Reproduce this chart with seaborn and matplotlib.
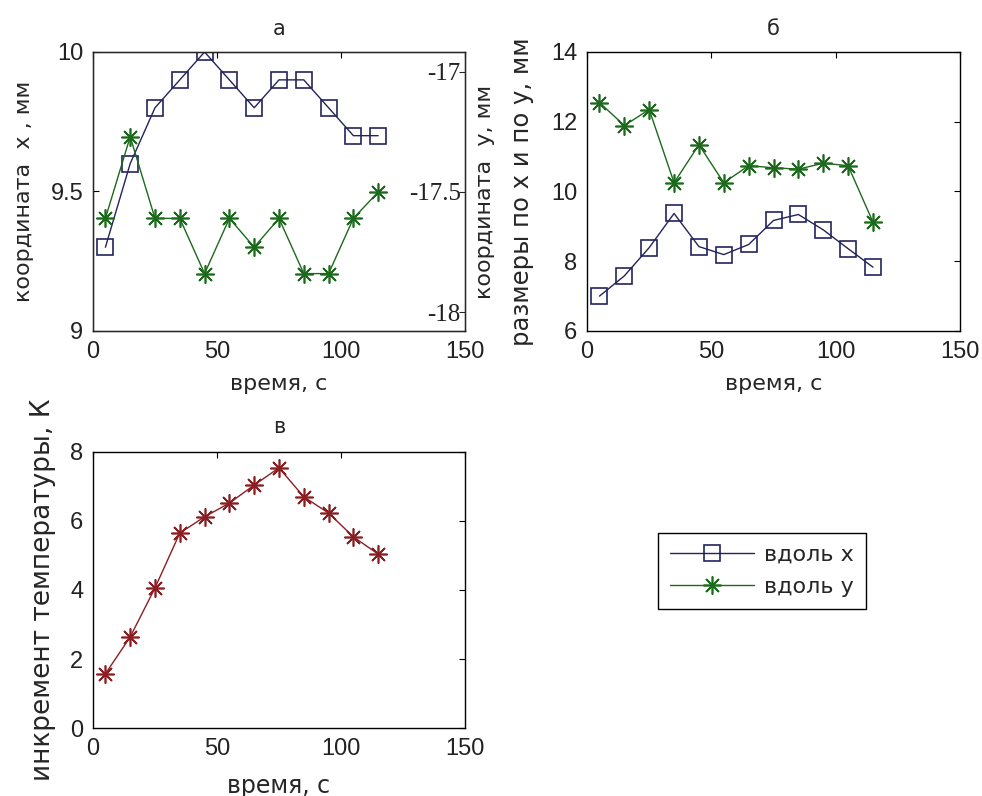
import numpy as np
import pandas as pd
import matplotlib
matplotlib.use("Agg")
import matplotlib.pyplot as plt
import seaborn as sns
from matplotlib.lines import Line2D

sns.set_style("white")
plt.rcParams['font.family'] = ['Liberation Sans', 'DejaVu Sans']

# time, s
t = [5, 15, 25, 35, 45, 55, 65, 75, 85, 95, 105, 115]

# panel a: coordinates
coord_x = [9.3, 9.6, 9.8, 9.9, 10.0, 9.9, 9.8, 9.9, 9.9, 9.8, 9.7, 9.7]
coord_y = [-17.61, -17.27, -17.61, -17.61, -17.84, -17.61, -17.73, -17.61,
           -17.84, -17.84, -17.61, -17.50]

# panel b: sizes along x and y
size_x = [7.0, 7.58, 8.39, 9.37, 8.42, 8.19, 8.48, 9.17, 9.34, 8.90, 8.36, 7.83]
size_y = [12.55, 11.89, 12.35, 10.25, 11.34, 10.25, 10.74, 10.68, 10.64, 10.81,
          10.74, 9.12]

# panel c: temperature increment, K
temp = [1.57, 2.64, 4.06, 5.65, 6.12, 6.52, 7.04, 7.54, 6.70, 6.23, 5.54, 5.04]

c_blue = "#23235e"
c_green = "#1c6a1c"
c_red = "#8a1e22"
star = (8, 2, 0)
txt_font = "DejaVu Sans"

df = pd.DataFrame({"t": t, "cx": coord_x, "cy": coord_y,
                   "sx": size_x, "sy": size_y, "temp": temp})

fig = plt.figure(figsize=(9.82, 7.96), dpi=100)
ax_a = fig.add_axes([0.0947, 0.5842, 0.3788, 0.3505])
ax_b = fig.add_axes([0.5978, 0.5842, 0.3798, 0.3505])
ax_c = fig.add_axes([0.0947, 0.0854, 0.3788, 0.3468])

tick_fs = 17
lab_fs = 16


def style_axis(ax, right=True):
    for s in ax.spines.values():
        s.set_color("black")
        s.set_linewidth(1.0)
    ax.tick_params(direction="in", length=4, width=0.8, labelsize=tick_fs,
                   top=True, right=right, colors="black", labelcolor="#222222",
                   pad=7)
    ax.set_xlim(0, 150)
    ax.set_xticks([0, 50, 100, 150])


# ---- panel a
sns.lineplot(data=df, x="t", y="cx", ax=ax_a, color=c_blue, lw=1.0,
             marker="s", markersize=12, markerfacecolor="none",
             markeredgecolor=c_blue, markeredgewidth=1.2)
ax_a.set_ylim(9, 10)
ax_a.set_yticks([9, 9.5, 10])
ax_a.set_yticklabels(["9", "9.5", "10"])
style_axis(ax_a, right=False)
ax_a.set_xlabel("время, с", fontsize=lab_fs, family=txt_font, labelpad=8)
ax_a.set_ylabel("координата  х , мм", fontsize=16, family=txt_font, labelpad=12)
ax_a.set_title("а", fontsize=15, family=txt_font, pad=12)

ax_a2 = ax_a.twinx()
sns.lineplot(data=df, x="t", y="cy", ax=ax_a2, color=c_green, lw=1.0,
             marker=star, markersize=13, markeredgecolor=c_green,
             markeredgewidth=1.2)
ax_a2.set_ylim(-18.079, -16.917)
ax_a2.set_yticks([-18, -17.5, -17])
ax_a2.set_yticklabels(["-18", "-17.5", "-17"])
ax_a2.tick_params(axis="y", direction="in", length=4, pad=-3, labelsize=18,
                  labelcolor="#222222")
for lbl in ax_a2.get_yticklabels():
    lbl.set_horizontalalignment("right")
    lbl.set_fontfamily("Liberation Serif")
ax_a2.set_ylabel("координата  у, мм", fontsize=16, family=txt_font, labelpad=7)
ax_a2.set_xlim(0, 150)

# ---- panel b
sns.lineplot(data=df, x="t", y="sy", ax=ax_b, color=c_green, lw=1.0,
             marker=star, markersize=13, markeredgecolor=c_green,
             markeredgewidth=1.2)
sns.lineplot(data=df, x="t", y="sx", ax=ax_b, color=c_blue, lw=1.0,
             marker="s", markersize=12, markerfacecolor="none",
             markeredgecolor=c_blue, markeredgewidth=1.2)
ax_b.set_ylim(6, 14)
ax_b.set_yticks([6, 8, 10, 12, 14])
style_axis(ax_b)
ax_b.set_xlabel("время, с", fontsize=lab_fs, family=txt_font, labelpad=8)
ax_b.set_ylabel("размеры по х и по у, мм", fontsize=17.5, family=txt_font,
                labelpad=12)
ax_b.set_title("б", fontsize=15, family=txt_font, pad=12)

# ---- panel c
sns.lineplot(data=df, x="t", y="temp", ax=ax_c, color=c_red, lw=1.0,
             marker=star, markersize=13, markeredgecolor=c_red,
             markeredgewidth=1.2)
ax_c.set_ylim(0, 8)
ax_c.set_yticks([0, 2, 4, 6, 8])
style_axis(ax_c)
ax_c.set_xlabel("время, с", fontsize=17, family=txt_font, labelpad=10)
ax_c.set_ylabel("инкремент температуры, К", fontsize=19, family=txt_font,
                labelpad=10)
ax_c.set_title("в", fontsize=15, family=txt_font, pad=14)

# ---- legend
handles = [
    Line2D([], [], color=c_blue, lw=1.0, marker="s", markersize=12,
           markerfacecolor="none", markeredgecolor=c_blue, markeredgewidth=1.2),
    Line2D([], [], color=c_green, lw=1.0, marker=star, markersize=13,
           markeredgecolor=c_green, markeredgewidth=1.2),
]
fig.legend(handles, ["вдоль х", "вдоль у"], loc="center",
           bbox_to_anchor=(0.776, 0.2827), frameon=True,
           prop={"family": txt_font, "size": 16},
           fancybox=False, edgecolor="black", framealpha=1,
           handlelength=3.8, handletextpad=0.45, borderpad=0.55,
           labelspacing=0.55, borderaxespad=0)
fig.legends[0].get_frame().set_linewidth(1.0)

fig.savefig("out.png", dpi=100, facecolor="white")
